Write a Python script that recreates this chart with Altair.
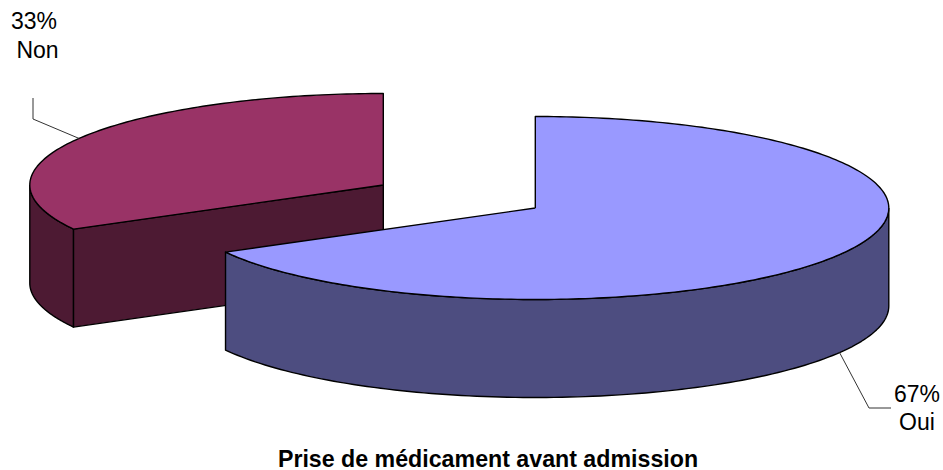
import math
import altair as alt
import pandas as pd

# Survey shares and their labels
categories = ["Oui", "Non"]
shares = [67, 33]
share_labels = ["67%", "33%"]
title_text = "Prise de médicament avant admission"

W, H = 943, 470
RX, RY, DEPTH = 353.5, 91.5, 98
CENTERS = {"Oui": (535.3, 208), "Non": (383.3, 185)}  # the "Non" slice is pulled out
TOP = {"Oui": "#9999FF", "Non": "#993366"}
SIDE = {"Oui": "#4D4D80", "Non": "#4D1A33"}


def rim(cat, deg, drop=0):
    cx, cy = CENTERS[cat]
    t = math.radians(deg)
    return cx + RX * math.cos(t), cy - RY * math.sin(t) + drop


def arc(cat, a, b, drop=0, n=120):
    return [rim(cat, a + (b - a) * i / n, drop) for i in range(n + 1)]


def polygon(points, fill):
    pts = list(points) + [points[0]]
    df = pd.DataFrame(pts, columns=["x", "y"])
    df["i"] = range(len(df))
    x = alt.X("x:Q", axis=None, scale=alt.Scale(domain=[0, W], nice=False, zero=False))
    y = alt.Y("y:Q", axis=None, scale=alt.Scale(domain=[H, 0], nice=False, zero=False))
    return alt.Chart(df).mark_line(
        fill=fill, stroke="#000000", strokeWidth=1.4, strokeJoin="round", clip=False
    ).encode(x=x, y=y, order="i:Q")


def leader(points):
    df = pd.DataFrame(points, columns=["x", "y"])
    df["i"] = range(len(df))
    x = alt.X("x:Q", axis=None, scale=alt.Scale(domain=[0, W], nice=False, zero=False))
    y = alt.Y("y:Q", axis=None, scale=alt.Scale(domain=[H, 0], nice=False, zero=False))
    return alt.Chart(df).mark_line(stroke="#333333", strokeWidth=1).encode(x=x, y=y, order="i:Q")


def label(text, px, py, size=23, weight="normal"):
    return alt.Chart(pd.DataFrame({"t": [text]})).mark_text(
        font="Liberation Sans", fontSize=size, fontWeight=weight, color="#000000",
        align="center", baseline="alphabetic",
    ).encode(text="t:N", x=alt.value(px), y=alt.value(py))


# Slice angles run counter-clockwise for "Non" and clockwise for "Oui" from 12 o'clock
sweep_non = 360 * shares[1] / sum(shares)
start = 90
end_non = start + sweep_non
end_oui = end_non - 360
mid_non = start + sweep_non / 2
mid_oui = start + (end_oui - start) / 2

layers = []

# "Non" slice: rounded wall, flat cut face, then the top
layers.append(polygon(arc("Non", 180, end_non) + arc("Non", end_non, 180, DEPTH), SIDE["Non"]))
c_non = CENTERS["Non"]
e_non = rim("Non", end_non)
layers.append(polygon([e_non, c_non, (c_non[0], c_non[1] + DEPTH), (e_non[0], e_non[1] + DEPTH)], SIDE["Non"]))
layers.append(polygon([c_non] + arc("Non", start, end_non), TOP["Non"]))

# "Oui" slice: front wall then the top
layers.append(polygon(arc("Oui", 0, end_oui) + arc("Oui", end_oui, 0, DEPTH), SIDE["Oui"]))
layers.append(polygon([CENTERS["Oui"]] + arc("Oui", start, end_oui, n=240), TOP["Oui"]))

# Leader lines from the middle of each slice's rim to its label
layers.append(leader([rim("Non", mid_non), (33, 119), (33, 98)]))
layers.append(leader([rim("Oui", mid_oui, DEPTH), (869, 408), (891, 408)]))

layers.append(label(share_labels[1], 34, 29))
layers.append(label(categories[1], 37.5, 58))
layers.append(label(share_labels[0], 917, 402))
layers.append(label(categories[0], 917, 430))
layers.append(label(title_text, 488, 467, size=23.2, weight="bold"))

chart = alt.layer(*layers).properties(
    width=W, height=H, padding=0, autosize=alt.AutoSizeParams(type="none"), background="#FFFFFF"
).configure_view(stroke=None)

chart.save("out.html", embed_options={"renderer": "svg", "actions": False})
